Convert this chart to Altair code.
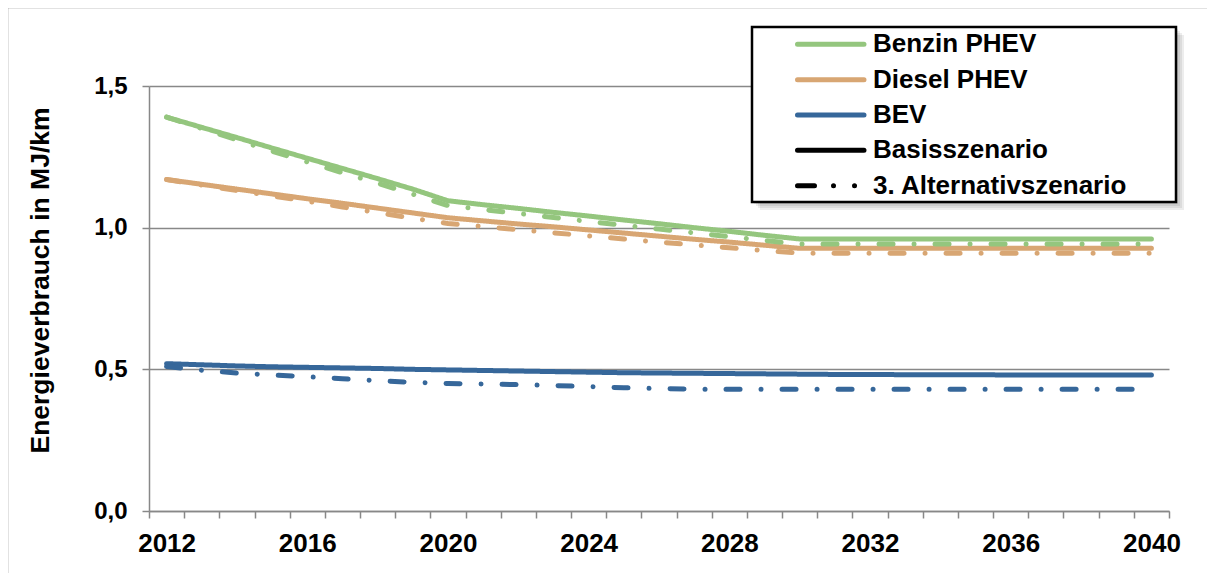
import altair as alt
import pandas as pd

years = list(range(2012, 2041))

benzin_base = [1.390, 1.354, 1.318, 1.281, 1.245, 1.209, 1.173, 1.136, 1.095,
               1.081, 1.068, 1.054, 1.041, 1.027, 1.014, 1.000, 0.987, 0.973, 0.960,
               0.960, 0.960, 0.960, 0.960, 0.960, 0.960, 0.960, 0.960, 0.960, 0.960]
benzin_alt = [1.390, 1.350, 1.310, 1.270, 1.232, 1.194, 1.157, 1.118, 1.078,
              1.064, 1.050, 1.036, 1.022, 1.008, 0.995, 0.982, 0.968, 0.955, 0.942,
              0.942, 0.942, 0.942, 0.942, 0.942, 0.942, 0.942, 0.942, 0.942, 0.942]
diesel_base = [1.170, 1.153, 1.136, 1.119, 1.102, 1.086, 1.069, 1.052, 1.035,
               1.024, 1.013, 1.003, 0.992, 0.981, 0.970, 0.959, 0.949, 0.938, 0.927,
               0.927, 0.927, 0.927, 0.927, 0.927, 0.927, 0.927, 0.927, 0.927, 0.927]
diesel_alt = [1.170, 1.150, 1.131, 1.112, 1.093, 1.073, 1.053, 1.033, 1.015,
              1.004, 0.993, 0.982, 0.971, 0.960, 0.949, 0.939, 0.929, 0.919, 0.910,
              0.910, 0.910, 0.910, 0.910, 0.910, 0.910, 0.910, 0.910, 0.910, 0.910]
bev_base = [0.520, 0.516, 0.512, 0.509, 0.507, 0.505, 0.503, 0.500, 0.498,
            0.496, 0.494, 0.492, 0.490, 0.488, 0.487, 0.486, 0.485, 0.484, 0.483,
            0.482, 0.482, 0.481, 0.481, 0.481, 0.480, 0.480, 0.480, 0.480, 0.480]
bev_alt = [0.510, 0.497, 0.487, 0.480, 0.474, 0.467, 0.460, 0.454, 0.450,
           0.448, 0.446, 0.443, 0.439, 0.435, 0.432, 0.430, 0.430, 0.430, 0.430,
           0.430, 0.430, 0.430, 0.430, 0.430, 0.430, 0.430, 0.430, 0.430, 0.430]

fuels = ["Benzin PHEV", "Diesel PHEV", "BEV"]
fuel_colors = ["#94C67E", "#D8A673", "#36679A"]
scenarios = ["Basisszenario", "3. Alternativszenario"]
y_ticks = [0, 0.5, 1.0, 1.5]
x_label_years = [2012, 2016, 2020, 2024, 2028, 2032, 2036, 2040]

series = [
    ("Benzin PHEV", "Basisszenario", benzin_base),
    ("Diesel PHEV", "Basisszenario", diesel_base),
    ("BEV", "Basisszenario", bev_base),
    ("Benzin PHEV", "3. Alternativszenario", benzin_alt),
    ("Diesel PHEV", "3. Alternativszenario", diesel_alt),
    ("BEV", "3. Alternativszenario", bev_alt),
]
rows = []
for fuel, scen, vals in series:
    for yr, v in zip(years, vals):
        rows.append({"year": yr, "value": v, "fuel": fuel, "scenario": scen})
df = pd.DataFrame(rows)

FONT = "Liberation Sans"
GRAY = "#888888"
DASH_ALT = [14, 21, 0.01, 21]

tick_vals = [y - 0.5 for y in range(2012, 2042)]
label_expr = ("indexof([" + ",".join(str(v) for v in x_label_years) +
              "], datum.value + 0.5) >= 0 ? '' + (datum.value + 0.5) : ''")

x_axis = alt.Axis(values=tick_vals, labelExpr=label_expr, labelOffset=17.59,
                  labelFont=FONT, labelFontSize=26, labelFontWeight="bold",
                  labelColor="black", labelPadding=12, labelOverlap=False,
                  labelFlush=False, labelBound=False,
                  tickSize=7, tickColor=GRAY, tickWidth=1.5,
                  domainColor=GRAY, domainWidth=1.5, grid=False, title=None)
y_axis = alt.Axis(values=y_ticks,
                  labelExpr="replace(format(datum.value, '.1f'), '.', ',')",
                  labelFont=FONT, labelFontSize=24, labelFontWeight="bold",
                  labelColor="black", labelPadding=15, labelFlush=False,
                  labelOverlap=False,
                  tickSize=7, tickColor=GRAY, tickWidth=1.5,
                  domainColor=GRAY, domainWidth=1.5,
                  grid=True, gridColor=GRAY, gridWidth=1.5,
                  title="Energieverbrauch in MJ/km", titleFont=FONT,
                  titleFontSize=26.5, titleFontWeight="bold", titleColor="black",
                  titleX=-109, titleY=194, titleAngle=270, titleAlign="center",
                  titleBaseline="middle")

lines = alt.Chart(df).mark_line(strokeWidth=5, strokeCap="round", strokeJoin="round").encode(
    x=alt.X("year:Q", scale=alt.Scale(domain=[2011.5, 2040.5], nice=False, zero=False), axis=x_axis),
    y=alt.Y("value:Q", scale=alt.Scale(domain=[0, 1.5], nice=False), axis=y_axis),
    color=alt.Color("fuel:N", scale=alt.Scale(domain=fuels, range=fuel_colors), legend=None),
    strokeDash=alt.StrokeDash("scenario:N", scale=alt.Scale(domain=scenarios, range=[[1, 0], DASH_ALT]), legend=None),
)

one = pd.DataFrame({"a": [0]})

frame = alt.Chart(one).mark_rect(fillOpacity=0, stroke="#8c8c8c", strokeWidth=1.5).encode(
    x=alt.value(-141.5), x2=alt.value(1400), y=alt.value(-78.5), y2=alt.value(800))

LX0, LX1, LY0, LY1 = 603, 1027, -59, 116
shadows = []
for off in [2, 4, 6, 8]:
    shadows.append(alt.Chart(one).mark_rect(fill="black", opacity=0.07).encode(
        x=alt.value(LX0 + off), x2=alt.value(LX1 + off),
        y=alt.value(LY0 + off), y2=alt.value(LY1 + off)))
box = alt.Chart(one).mark_rect(fill="white", stroke="black", strokeWidth=2.5).encode(
    x=alt.value(LX0), x2=alt.value(LX1), y=alt.value(LY0), y2=alt.value(LY1))

legend_labels = fuels + scenarios
legend_colors = fuel_colors + ["black", "black"]
legend_dashes = [[1, 0], [1, 0], [1, 0], [1, 0], [17, 19, 0.01, 21, 0.01, 40]]
row_y = [-41.7, -6.3, 29, 64.3, 99.7]
legend_layers = []
for lab, col, dash, ry in zip(legend_labels, legend_colors, legend_dashes, row_y):
    legend_layers.append(alt.Chart(one).mark_rule(
        strokeWidth=5, strokeCap="round", color=col, strokeDash=dash).encode(
        x=alt.value(648.5), x2=alt.value(715), y=alt.value(ry)))
    legend_layers.append(alt.Chart(one).mark_text(
        align="left", baseline="middle", font=FONT, fontSize=26,
        fontWeight="bold", color="black").encode(
        x=alt.value(724), y=alt.value(ry), text=alt.value(lab)))

chart = alt.layer(frame, lines, *shadows, box, *legend_layers).properties(
    width=1020, height=425,
    padding={"left": 141, "top": 78, "right": 38, "bottom": 62},
    autosize=alt.AutoSizeParams(type="none"),
    background="white",
).configure_view(strokeWidth=0)

chart.save("out.html", embed_options={"renderer": "svg", "actions": False})
